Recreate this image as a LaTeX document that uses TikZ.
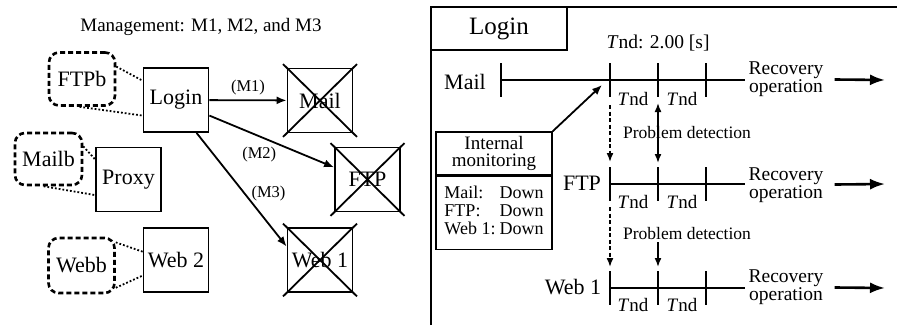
\documentclass[tikz,border=0pt]{standalone}
\usepackage{fontspec}
\setmainfont{Liberation Serif}
\usetikzlibrary{arrows.meta}

\newcommand{\fsz}[2]{\fontsize{#1}{#2}\selectfont}

\begin{document}
\begin{tikzpicture}[x=1pt, y=-1pt]
        \tikzstyle{server} = [rectangle, draw, line width=1.8pt, minimum width=65pt, minimum height=64pt, inner sep=0pt, font=\fsz{22}{22}]
        \tikzstyle{backup} = [rectangle, draw, line width=2.6pt, dash pattern=on 5pt off 3pt, rounded corners=10pt, minimum width=66pt, minimum height=53pt, inner sep=0pt, font=\fsz{22}{22}]
        \tikzstyle{cross} = [draw, line width=1.8pt, shorten <=-5pt, shorten >=-5pt]
        \tikzstyle{link} = [draw, line width=1.8pt, dotted]
        \tikzstyle{line} = [draw, -{Latex[length=10pt, width=8pt]}, line width=1.8pt]
        \tikzstyle{timeline} = [draw, line width=2.6pt]
        \tikzstyle{alarm} = [draw, -{Latex[length=9pt, width=7pt]}, line width=1.6pt]
        \tikzstyle{probe} = [dash pattern=on 4pt off 2.5pt]
        \tikzstyle{tndtext} = [font=\fsz{19}{19}, inner sep=0pt]
        \tikzstyle{recovery} = [align=center, font=\fsz{19.5}{18}, inner sep=3pt]
        
        \useasboundingbox (0,0) rectangle (897,325);
        
        % left: servers managed by Login
        \node [font=\fsz{19}{19}] (title) at (201,27) {Management: M1, M2, and M3};
        \node [server] (login) at (176,100) {Login};
        \node [server] (proxy) at (128.5,179.5) {Proxy};
        \node [server] (web2) at (176,260) {Web 2};
        \node [server] (mail) at (320,100.5) {Mail};
        \node [server] (ftp) at (367.5,179.5) {FTP};
        \node [server] (web1) at (320,260) {Web 1};
        \node [backup] (ftpb) at (82,79) {FTPb};
        \node [backup, minimum width=67pt, minimum height=52pt] (mailb) at (48.5,159) {Mailb};
        \node [backup, minimum height=55pt] (webb) at (81.5,265.5) {Webb};
        
        \path [link] (ftpb.20) -- (login.150);
        \path [link] (ftpb.-95) -- (login.-155);
        \path [link] (mailb.20) -- (proxy.149);
        \path [link] (mailb.-100) -- (proxy.-155);
        \path [link] (webb.34) -- (web2.166);
        \path [link] (webb.-33) -- (web2.-155);
        
        \path [line] (login) -- node [above=1pt, font=\fsz{16.5}{16.5}] {(M1)} (mail);
        \path [line] (login.-25) -- node [below=7pt, pos=0.4, font=\fsz{16.5}{16.5}] {(M2)} (ftp.160);
        \path [line] (login.-58) -- node [right=3pt, pos=0.53, font=\fsz{16.5}{16.5}] {(M3)} (web1.158);
        
        \path [cross] (mail.north west) -- (mail.south east);
        \path [cross] (mail.north east) -- (mail.south west);
        \path [cross] (ftp.north west) -- (ftp.south east);
        \path [cross] (ftp.north east) -- (ftp.south west);
        \path [cross] (web1.north west) -- (web1.south east);
        \path [cross] (web1.north east) -- (web1.south west);
        
        % right: timeline on Login
        \draw [line width=2.6pt] (431,325) -- (431,7) -- (897,7);
        \node [draw, line width=1.5pt, minimum width=136pt, minimum height=43pt, font=\fsz{25}{25}] (lgtitle) at (499,28.5) {Login};
        \node [font=\fsz{19.5}{19.5}] (period) at (658,43) {\textit{T}nd: 2.00 [s]};
        
        \coordinate (m0) at (501,80);
        \coordinate (m1) at (610,80);
        \coordinate (m2) at (658,80);
        \coordinate (m3) at (706,80);
        \coordinate (f1) at (610,184);
        \coordinate (f2) at (658,184);
        \coordinate (f3) at (706,184);
        \coordinate (w1) at (610,288);
        \coordinate (w2) at (658,288);
        \coordinate (w3) at (706,288);
        \coordinate (hit) at (602,85);
        \coordinate (out1) at (885,80);
        \coordinate (out2) at (885,184);
        \coordinate (out3) at (885,288);
        
        \node [font=\fsz{22}{22}] (lmail) at (465,82) {Mail};
        \node [font=\fsz{22}{22}] (lftp) at (582,183) {FTP};
        \node [font=\fsz{22}{22}] (lweb) at (573,287) {Web 1};
        
        \node [recovery] (rec1) at (786,79) {Recovery\\operation};
        \node [recovery] (rec2) at (786,185) {Recovery\\operation};
        \node [recovery] (rec3) at (786,287) {Recovery\\operation};
        
        \path [timeline] (m0) -- (m0 -| rec1.west);
        \path [timeline] (f1) -- (f1 -| rec2.west);
        \path [timeline] (w1) -- (w1 -| rec3.west);
        \foreach \t in {m0,m1,m2,m3,f1,f2,f3,w1,w2,w3}
            \draw [timeline] ([yshift=17pt]\t) -- ([yshift=-17pt]\t);
        
        \path [line, line width=2.6pt, -{Latex[length=15pt, width=11pt]}, shorten <=8pt] (rec1) -- (out1);
        \path [line, line width=2.6pt, -{Latex[length=15pt, width=11pt]}, shorten <=8pt] (rec2) -- (out2);
        \path [line, line width=2.6pt, -{Latex[length=15pt, width=11pt]}, shorten <=8pt] (rec3) -- (out3);
        
        \node [tndtext] (t1) at (633,99) {\textit{T}nd};
        \node [tndtext] (t2) at (682,99) {\textit{T}nd};
        \node [tndtext] (t3) at (633,202) {\textit{T}nd};
        \node [tndtext] (t4) at (682,202) {\textit{T}nd};
        \node [tndtext] (t5) at (633,305) {\textit{T}nd};
        \node [tndtext] (t6) at (682,305) {\textit{T}nd};
        
        \node [font=\fsz{17.5}{17.5}, inner sep=2pt] (pd1) at (687,133) {Problem detection};
        \node [font=\fsz{17.5}{17.5}, inner sep=2pt] (pd2) at (687,234) {Problem detection};
        
        \path [alarm, probe, shorten <=25pt, shorten >=22pt] (m1) -- (f1);
        \path [alarm, {Latex[length=9pt, width=7pt]}-{Latex[length=9pt, width=7pt]}, shorten <=23pt, shorten >=21pt] (m2) -- (f2);
        \path [alarm, probe, shorten <=23pt, shorten >=21pt] (f1) -- (w1);
        \path [alarm, shorten >=21pt] (pd2.south -| w2) -- (w2);
        
        \node [draw, line width=1.5pt, minimum width=116pt, minimum height=43pt, align=center, font=\fsz{19}{17.5}] (imhead) at (494,153.5) {Internal\\monitoring};
        \node [draw, line width=1.5pt, minimum width=116pt, minimum height=73pt, font=\fsz{18}{18}, anchor=north] (imbody) at (imhead.south) {\begin{tabular}{@{}l@{\hspace{4pt}}l@{}}Mail: & Down\\FTP: & Down\\Web 1: & Down\end{tabular}};
        \path [line] (imhead.north east) -- (hit);
    \end{tikzpicture}
\end{document}
